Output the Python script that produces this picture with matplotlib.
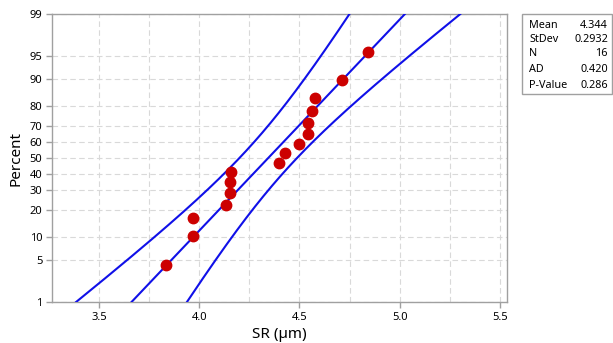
import numpy as np
import matplotlib
matplotlib.use('Agg')
import matplotlib.pyplot as plt
from matplotlib.patches import Rectangle
from statistics import NormalDist

plt.rcParams['font.family'] = ['Noto Sans', 'DejaVu Sans']

# data (sorted SR values, um)
sr_values = [3.833, 3.97, 3.97, 4.135, 4.155, 4.155, 4.16, 4.397,
             4.43, 4.50, 4.545, 4.545, 4.565, 4.58, 4.71, 4.84]

stat_names = ['Mean', 'StDev', 'N', 'AD', 'P-Value']
stat_values = ['4.344', '0.2932', '16', '0.420', '0.286']
mean = 4.344
stdev = 0.2932
n = 16

y_ticks = [1, 5, 10, 20, 30, 40, 50, 60, 70, 80, 90, 95, 99]
x_ticks = [3.5, 4.0, 4.5, 5.0, 5.5]
x_grid = [3.5, 3.75, 4.0, 4.25, 4.5, 4.75, 5.0, 5.25, 5.5]

nd = NormalDist()
_ppf = np.vectorize(nd.inv_cdf, otypes=[float])
_cdf = np.vectorize(nd.cdf, otypes=[float])


def fwd(p):
    p = np.clip(np.asarray(p, dtype=float), 1e-9, 100 - 1e-9)
    return _ppf(p / 100.0)


def inv(z):
    return _cdf(np.asarray(z, dtype=float)) * 100.0


# median ranks (Minitab default)
ranks = np.arange(1, n + 1)
percents = (ranks - 0.3) / (n + 0.4) * 100

# fitted line and 95% CI from the reported mean / stdev
p_line = np.linspace(1, 99, 300)
z_line = fwd(p_line)
x_fit = mean + stdev * z_line
half = 1.96 * stdev * np.sqrt(1.0 / n + z_line ** 2 / (2.0 * n))

fig = plt.figure(figsize=(6.13, 3.43), dpi=100)
ax = fig.add_axes([0.0848, 0.1195, 0.742, 0.8395])
ax.set_yscale('function', functions=(fwd, inv))

blue = '#1010E8'
ax.plot(x_fit, p_line, color=blue, lw=1.5, zorder=3)
ax.plot(x_fit - half, p_line, color=blue, lw=1.5, zorder=3)
ax.plot(x_fit + half, p_line, color=blue, lw=1.5, zorder=3)
ax.plot(sr_values, percents, 'o', color='#CC0000', ms=7.5, mec='#CC0000', zorder=4)

ax.set_xlim(3.265, 5.535)
ax.set_ylim(1, 99)
ax.set_yticks(y_ticks)
ax.set_yticklabels([str(t) for t in y_ticks])
ax.set_xticks(x_ticks)
ax.set_xticklabels(['{:.1f}'.format(t) for t in x_ticks])
ax.minorticks_off()

for xv in x_grid:
    ax.axvline(xv, color='#D9D9D9', lw=0.8, ls=(0, (5, 3)), zorder=1)
for yv in y_ticks:
    ax.axhline(yv, color='#D9D9D9', lw=0.8, ls=(0, (5, 3)), zorder=1)

for s in ax.spines.values():
    s.set_color('#A0A0A0')
    s.set_linewidth(1.0)
ax.tick_params(axis='both', labelsize=8, colors='#A0A0A0', labelcolor='black',
               length=4, width=1.0, pad=3)

ax.set_xlabel('SR (µm)', fontsize=11, labelpad=3)
ax.set_ylabel('Percent', fontsize=11, labelpad=4)

# stats box
bx0, bx1 = 522 / 613, 611.5 / 613
by0, by1 = 1 - 94 / 343, 1 - 14 / 343
fig.patches.append(Rectangle((bx0, by0), bx1 - bx0, by1 - by0, transform=fig.transFigure,
                             fill=False, edgecolor='#A0A0A0', lw=1.0))
rows_y = [25, 39, 54, 70, 85]
for name, val, ry in zip(stat_names, stat_values, rows_y):
    fig.text(529 / 613, 1 - ry / 343, name, fontsize=7.8, va='center', ha='left')
    fig.text(608 / 613, 1 - ry / 343, val, fontsize=7.8, va='center', ha='right')

fig.savefig('out.png', dpi=100)
